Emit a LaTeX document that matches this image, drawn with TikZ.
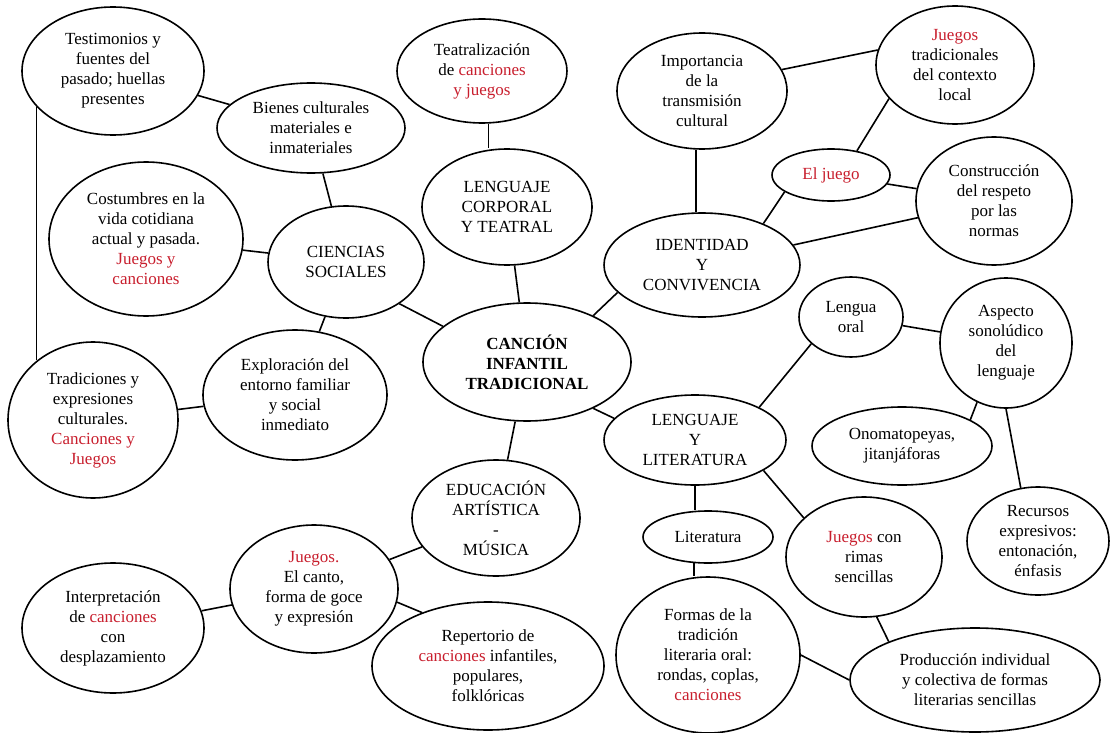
\documentclass[tikz,border=0pt]{standalone}
\usepackage{fontspec}
\setmainfont{Liberation Serif}
\usetikzlibrary{shapes.geometric}
\definecolor{jred}{RGB}{200,30,45}
\newcommand\redtxt[1]{\textcolor{jred}{#1}}
\tikzset{
  ell/.style={draw, ellipse, line width=1.6pt, inner sep=0pt, align=center,
    font=\fontsize{17}{20}\selectfont},
  conn/.style={line width=1.6pt}
}
\begin{document}
\begin{tikzpicture}[x=1pt,y=-1pt]
\useasboundingbox (0,0) rectangle (1111,733);
\node[ell, minimum width=182pt, minimum height=128pt] (testi) at (113,71) {Testimonios y\\fuentes del\\pasado; huellas\\presentes};
\node[ell, minimum width=188pt, minimum height=90pt] (bienes) at (311,128) {Bienes culturales\\materiales e\\inmateriales};
\node[ell, minimum width=194pt, minimum height=154pt] (costum) at (146,239) {Costumbres en la\\vida cotidiana\\actual y pasada.\\\redtxt{Juegos y}\\\redtxt{canciones}};
\node[ell, minimum width=156pt, minimum height=112pt] (cien) at (346,262) {CIENCIAS\\SOCIALES};
\node[ell, minimum width=184pt, minimum height=130pt] (explo) at (295,395) {Exploración del\\entorno familiar\\y social\\inmediato};
\node[ell, minimum width=170pt, minimum height=156pt] (trad) at (93,420) {Tradiciones y\\expresiones\\culturales.\\\redtxt{Canciones y}\\\redtxt{Juegos}};
\node[ell, minimum width=170pt, minimum height=104pt] (teatro) at (482,71) {Teatralización\\de \redtxt{canciones}\\\redtxt{y juegos}};
\node[ell, minimum width=170pt, minimum height=116pt] (corp) at (507,207) {LENGUAJE\\CORPORAL\\Y TEATRAL};
\node[ell, minimum width=170pt, minimum height=116pt] (impo) at (702,91) {Importancia\\de la\\transmisión\\cultural};
\node[ell, minimum width=158pt, minimum height=118pt] (jtrad) at (955,65) {\redtxt{Juegos}\\tradicionales\\del contexto\\local};
\node[ell, minimum width=118pt, minimum height=52pt] (juego) at (831,175) {\redtxt{El juego}};
\node[ell, minimum width=156pt, minimum height=128pt] (constr) at (994,201) {Construcción\\del respeto\\por las\\normas};
\node[ell, minimum width=196pt, minimum height=104pt] (iden) at (702,265) {IDENTIDAD\\Y\\CONVIVENCIA};
\node[ell, minimum width=208pt, minimum height=118pt, font=\fontsize{17}{20}\selectfont\bfseries] (cancion) at (527,362) {CANCIÓN\\INFANTIL\\TRADICIONAL};
\node[ell, minimum width=104pt, minimum height=80pt] (lengua) at (851,317) {Lengua\\oral};
\node[ell, minimum width=132pt, minimum height=130pt] (aspecto) at (1006,343) {Aspecto\\sonolúdico\\del\\lenguaje};
\node[ell, minimum width=180pt, minimum height=78pt] (onom) at (902,446) {Onomatopeyas,\\jitanjáforas};
\node[ell, minimum width=182pt, minimum height=90pt] (lyl) at (695,440) {LENGUAJE\\Y\\LITERATURA};
\node[ell, minimum width=168pt, minimum height=116pt] (educ) at (496,518) {EDUCACIÓN\\ARTÍSTICA\\-\\MÚSICA};
\node[ell, minimum width=130pt, minimum height=52pt] (lit) at (708,537) {Literatura};
\node[ell, minimum width=156pt, minimum height=120pt] (rimas) at (864,557) {\redtxt{Juegos} con\\rimas\\sencillas};
\node[ell, minimum width=142pt, minimum height=108pt] (recursos) at (1038,541) {Recursos\\expresivos:\\entonación,\\énfasis};
\node[ell, minimum width=250pt, minimum height=104pt] (prod) at (975,680) {Producción individual\\y colectiva de formas\\literarias sencillas};
\node[ell, minimum width=184pt, minimum height=156pt] (formas) at (708,655) {Formas de la\\tradición\\literaria oral:\\rondas, coplas,\\\redtxt{canciones}};
\node[ell, minimum width=168pt, minimum height=128pt] (canto) at (314,589) {\redtxt{Juegos.}\\El canto,\\forma de goce\\y expresión};
\node[ell, minimum width=182pt, minimum height=130pt] (interp) at (113,628) {Interpretación\\de \redtxt{canciones}\\con\\desplazamiento};
\node[ell, minimum width=232pt, minimum height=128pt] (reper) at (488,666) {Repertorio de\\\redtxt{canciones} infantiles,\\populares,\\folklóricas};

% connectors
\draw[conn] (testi) -- (bienes);
\draw[conn] (testi.205) -- (testi.205 |- trad.133);
\draw[conn] (bienes) -- (cien);
\draw[conn] (costum) -- (cien);
\draw[conn] (cien) -- (explo);
\draw[conn] (explo) -- (trad);
\draw[conn] (cien.-38) -- (cancion.157);
\draw[conn] (teatro.-83) -- (teatro.-83 |- corp.north);
\draw[conn] (corp) -- (cancion);
\draw[conn] (impo.-96) -- (impo.-96 |- iden.north);
\draw[conn] (impo.15) -- (jtrad.169);
\draw[conn] (jtrad.207) -- (juego.43);
\draw[conn] (juego) -- (constr);
\draw[conn] (juego.200) -- (iden.34);
\draw[conn] (iden) -- (constr);
\draw[conn] (iden.198) -- (cancion.35);
\draw[conn] (cancion.-35) -- (lyl.165);
\draw[conn] (cancion) -- (educ);
\draw[conn] (lyl.27) -- (lengua.214);
\draw[conn] (lengua) -- (aspecto);
\draw[conn] (aspecto.244) -- (onom.21);
\draw[conn] (aspecto.-90) -- (recursos.108);
\draw[conn] (lyl.south) -- (lyl.south |- lit.north);
\draw[conn] (lit.-118) -- (lit.-118 |- formas.north);
\draw[conn] (lyl.-24) -- (rimas.147);
\draw[conn] (rimas.-78) -- (prod.156);
\draw[conn] (formas.0) -- (prod.180);
\draw[conn] (educ) -- (canto);
\draw[conn] (canto) -- (interp);
\draw[conn] (canto.-9) -- (reper.141);
\end{tikzpicture}
\end{document}
